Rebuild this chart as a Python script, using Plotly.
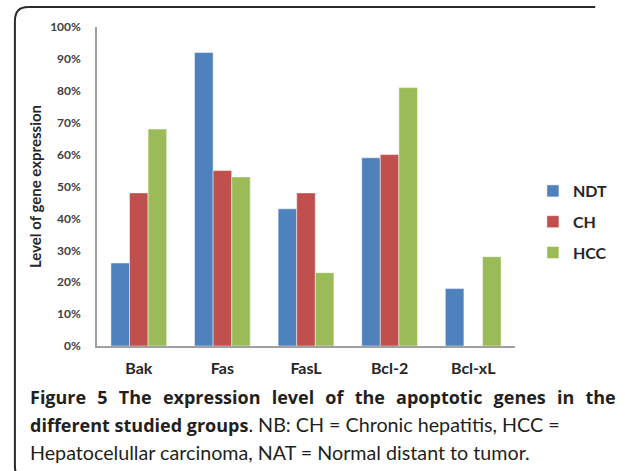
import plotly.graph_objects as go

genes = ["Bak", "Fas", "FasL", "Bcl-2", "Bcl-xL"]
ndt = [0.26, 0.92, 0.43, 0.59, 0.18]
ch = [0.48, 0.55, 0.48, 0.60, None]
hcc = [0.68, 0.53, 0.23, 0.81, 0.28]
series_names = ["NDT", "CH", "HCC"]
colors = ["#4F81BD", "#C0504D", "#9BBB59"]
y_ticks = [0, 0.1, 0.2, 0.3, 0.4, 0.5, 0.6, 0.7, 0.8, 0.9, 1.0]

W, H = 625, 471
L, R, T, B = 97, 85, 27, 125
PW, PH = W - L - R, H - T - B


def px(x):
    return (x - L) / PW


def py(y):
    return (H - B - y) / PH


fig = go.Figure()
for name, vals, col in zip(series_names, [ndt, ch, hcc], colors):
    fig.add_trace(go.Bar(
        x=genes, y=vals, name=name, legendgroup=name,
        marker=dict(color=col, line=dict(color="rgba(255,255,255,0.6)", width=0.8)),
    ))

tick_font = dict(family="Lato", size=12, color="#404040", weight="bold")

fig.update_layout(
    width=W, height=H,
    margin=dict(l=L, r=R, t=T, b=B, pad=0),
    paper_bgcolor="white", plot_bgcolor="white",
    barmode="group", bargap=0.333, bargroupgap=0,
    showlegend=True,
    legend=dict(
        x=px(559), y=py(174), xanchor="left", yanchor="top",
        font=dict(family="Lato", size=16, color="#262626", weight="bold"),
        tracegroupgap=7, bgcolor="rgba(0,0,0,0)",
    ),
    xaxis=dict(
        showline=True, linecolor="#A0A0A0", linewidth=1.5,
        showgrid=False, zeroline=False, ticks="",
        tickfont=dict(family="Lato", size=16, color="#262626", weight="bold"),
        ticklabelstandoff=7,
    ),
    yaxis=dict(
        range=[0, 1], showline=True, linecolor="#A0A0A0", linewidth=1.5,
        showgrid=False, zeroline=False, ticks="",
        tickvals=y_ticks, tickformat=".0%",
        tickfont=tick_font, ticklabelstandoff=12,
        title=dict(text="Level of gene expression",
                   font=dict(family="Lato", size=15, color="#262626", weight="bold"),
                   standoff=5),
    ),
)

# rounded frame (extends beyond the right and bottom edges)
x0, y0, r = 10, 7, 14
y1 = 480
frame_line = dict(color="#2a2a2a", width=2)
corner_path = (f"M {px(x0)},{py(y0 + r)} "
               f"Q {px(x0)},{py(y0)} {px(x0 + r)},{py(y0)} "
               f"M {px(x0)},{py(y1 - r)} "
               f"Q {px(x0)},{py(y1)} {px(x0 + r)},{py(y1)}")
fig.add_shape(type="path", path=corner_path, xref="paper", yref="paper", line=frame_line)
fig.add_shape(type="line", xref="paper", yref="paper",
              x0=px(x0 + r), y0=py(y0), x1=px(W), y1=py(y0), line=frame_line)
fig.add_shape(type="line", xref="paper", yref="paper",
              x0=px(x0), y0=py(y0 + r), x1=px(x0), y1=py(y1 - r), line=frame_line)

reg = '<span style="font-family:Lato;font-weight:normal;font-size:19.7px">'
cap_font = dict(family="Open Sans", size=18, color="#231F20")
captions = [
    ('<span style="word-spacing:6.5px"><b>Figure 5 The expression level of the apoptotic genes in the</b></span>', 397),
    ("<b>different studied groups</b>" + reg + ". NB: CH = Chronic hepatitis, HCC =</span>", 425),
    (reg + "Hepatocelullar carcinoma, NAT = Normal distant to tumor.</span>", 452),
]
for text, yy in captions:
    fig.add_annotation(text=text, xref="paper", yref="paper",
                       x=px(24), y=py(yy), xanchor="left", yanchor="middle",
                       showarrow=False, font=cap_font, align="left")

fig.write_html("out.html", config={"displayModeBar": False},
               post_script="document.body.style.margin='0';document.body.style.overflow='hidden';")
